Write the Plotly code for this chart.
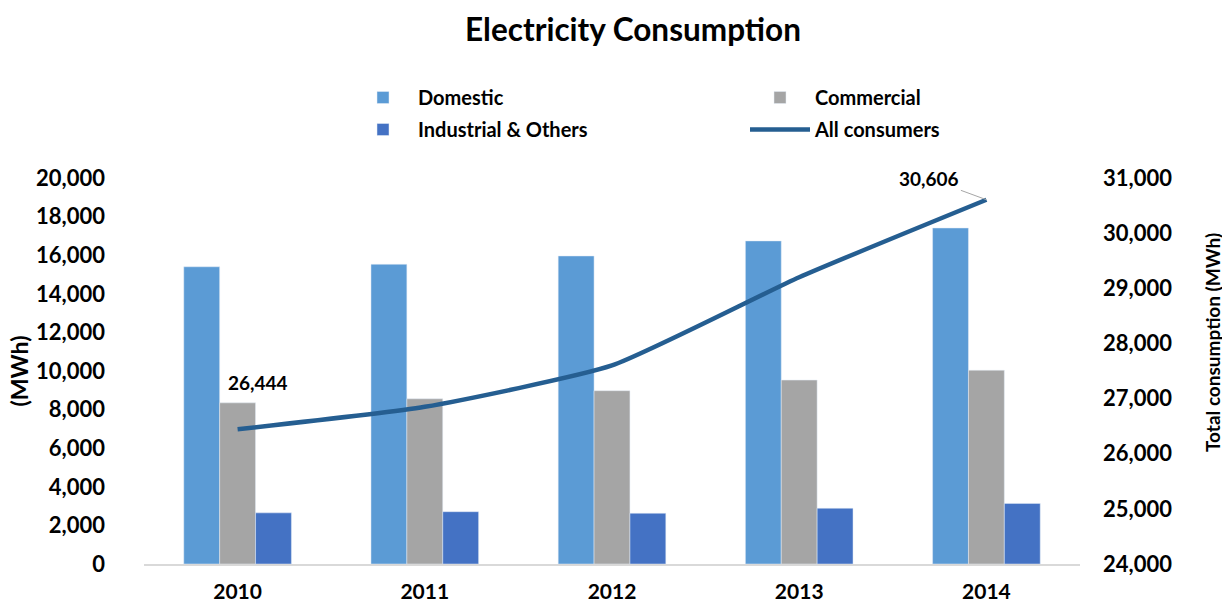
import plotly.graph_objects as go

years = ["2010", "2011", "2012", "2013", "2014"]
domestic = [15400, 15530, 15960, 16740, 17410]
commercial = [8350, 8560, 8980, 9530, 10040]
industrial = [2650, 2710, 2630, 2890, 3140]
all_consumers = [26444, 26850, 27600, 29200, 30606]

FONT = "Lato"
bold = dict(family=FONT, size=22, color="black", weight="bold")

fig = go.Figure()
fig.add_trace(go.Bar(name="Domestic", x=years, y=domestic, marker_color="#5B9BD5",
                     legend="legend", legendgroup="a"))
fig.add_trace(go.Bar(name="Commercial", x=years, y=commercial, marker_color="#A5A5A5",
                     legend="legend2", legendgroup="b"))
fig.add_trace(go.Bar(name="Industrial & Others", x=years, y=industrial, marker_color="#4472C4",
                     legend="legend", legendgroup="c"))
fig.add_trace(go.Scatter(name="All consumers", x=years, y=all_consumers, yaxis="y2",
                         mode="lines", legend="legend2", legendgroup="d",
                         line=dict(color="#255E91", width=4.5, shape="spline", smoothing=0.5)))

first, last = 0, len(years) - 1
fig.add_annotation(x=first, y=all_consumers[first], xref="x", yref="y2",
                   text=f"{all_consumers[first]:,}",
                   showarrow=False, xshift=20, yshift=47,
                   font=dict(family=FONT, size=19, color="black", weight="bold"))
fig.add_annotation(x=last, y=all_consumers[last], xref="x", yref="y2",
                   text=f"{all_consumers[last]:,}",
                   showarrow=True, ax=-57, ay=-21, arrowhead=0, arrowwidth=1,
                   arrowcolor="#A6A6A6", standoff=0,
                   font=dict(family=FONT, size=19, color="black", weight="bold"))

W, PL, PW = 1222, 144, 936
PT, PH = 178, 386
def px_x(p):
    return (p - PL) / PW
def px_y(p):
    return 1 + (PT - p) / PH

fig.add_annotation(xref="paper", yref="paper", x=px_x(1212), y=px_y(343),
                   text="Total consumption (MWh)", textangle=-90, showarrow=False,
                   xanchor="center", yanchor="middle",
                   font=dict(family=FONT, size=19, color="black", weight="bold"))

leg_common = dict(orientation="v", xanchor="left", yanchor="top", itemwidth=60,
                  tracegroupgap=3,
                  font=dict(family=FONT, size=20, color="black", weight="bold"),
                  bgcolor="rgba(0,0,0,0)")

fig.update_layout(
    width=W, height=606,
    margin=dict(l=PL, r=W - PL - PW, t=PT, b=606 - PT - PH, autoexpand=False),
    paper_bgcolor="white", plot_bgcolor="white",
    barmode="group", bargap=0.425, bargroupgap=0,
    title=dict(text="Electricity Consumption", x=0.518, xanchor="center",
               y=1 - 30 / 606, yanchor="middle", yref="container",
               font=dict(family=FONT, size=31.5, color="black", weight="bold")),
    legend=dict(x=px_x(348), y=px_y(78), **leg_common),
    legend2=dict(x=px_x(745), y=px_y(78), **leg_common),
    showlegend=True,
    xaxis=dict(type="category", range=[-0.5, 4.5], autorange=False,
               showline=True, linecolor="#D9D9D9", linewidth=2,
               ticks="outside", ticklen=8, tickcolor="rgba(0,0,0,0)",
               tickfont=dict(family=FONT, size=21, color="black", weight="bold"),
               showgrid=False, automargin=False),
    yaxis=dict(range=[0, 20000], dtick=2000, showgrid=False, zeroline=False,
               tickformat=",", tickfont=bold, ticklabelstandoff=38, automargin=False,
               title=dict(text="(MWh)", font=dict(family=FONT, size=23, color="black", weight="bold"),
                          standoff=0)),
    yaxis2=dict(range=[24000, 31000], dtick=1000, overlaying="y", side="right",
                showgrid=False, zeroline=False, tickformat=",", tickfont=bold,
                ticklabelstandoff=22, automargin=False),
)

fig.write_html("out.html", post_script="document.body.style.margin='0';",
               config={"displayModeBar": False})
